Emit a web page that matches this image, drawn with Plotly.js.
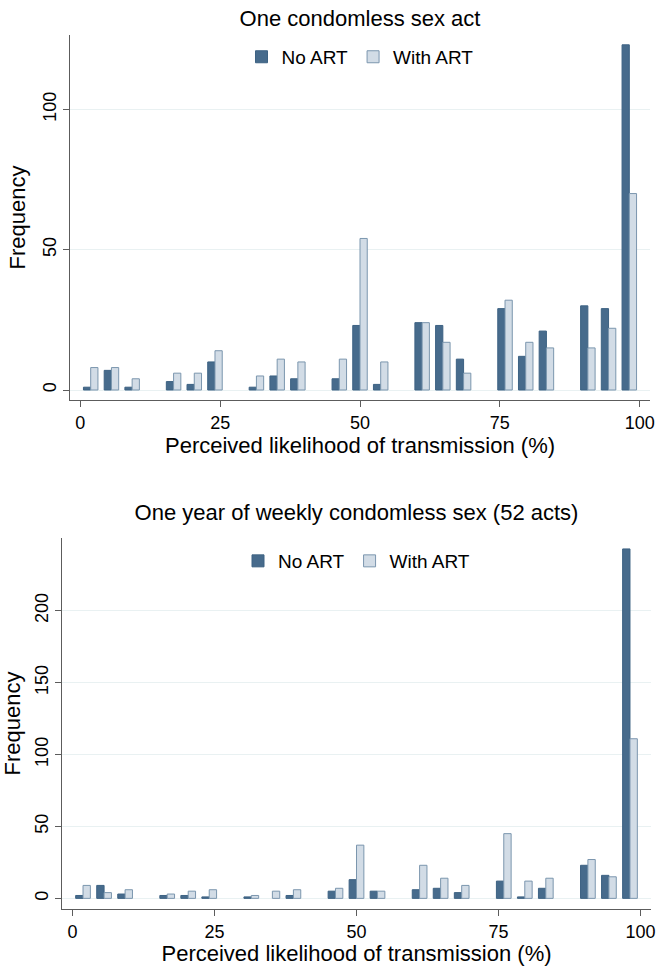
<!DOCTYPE html>
<html>
<head>
<meta charset="utf-8">
<script src="https://cdn.plot.ly/plotly-3.0.1.min.js"></script>
<style>
  html, body { margin: 0; padding: 0; background: #ffffff; }
  #top, #bottom { width: 667px; height: 483px; }
</style>
</head>
<body>
<div id="top"></div>
<div id="bottom"></div>
<script>
// Bin midpoints of the 27 histogram bins on 0–100 (%)
const binMid = [1.85, 5.56, 9.26, 12.96, 16.67, 20.37, 24.07, 27.78, 31.48, 35.19,
                38.89, 42.59, 46.30, 50.00, 53.70, 57.41, 61.11, 64.81, 68.52, 72.22,
                75.93, 79.63, 83.33, 87.04, 90.74, 94.44, 98.15];

// One condomless sex act
const oneActNoART   = [1, 7, 1, 0, 3, 2, 10, 0, 1, 5, 4, 0, 4, 23, 2, 0, 24, 23, 11, 0, 29, 12, 21, 0, 30, 29, 123];
const oneActWithART = [8, 8, 4, 0, 6, 6, 14, 0, 5, 11, 10, 0, 11, 54, 10, 0, 24, 17, 6, 0, 32, 17, 15, 0, 15, 22, 70];

// One year of weekly condomless sex (52 acts)
const yearNoART   = [2, 9, 3, 0, 2, 2, 1, 0, 1, 0, 2, 0, 5, 13, 5, 0, 6, 7, 4, 0, 12, 1, 7, 0, 23, 16, 243];
const yearWithART = [9, 4, 6, 0, 3, 5, 6, 0, 2, 5, 6, 0, 7, 37, 5, 0, 23, 14, 9, 0, 45, 12, 14, 0, 27, 15, 111];

const xTickVals = [0, 25, 50, 75, 100];
const topYTicks = [0, 50, 100];
const bottomYTicks = [0, 50, 100, 150, 200];

const titles = ["One condomless sex act", "One year of weekly condomless sex (52 acts)"];
const seriesNames = ["No ART", "With ART"];
const xTitle = "Perceived likelihood of transmission (%)";
const yTitle = "Frequency";

const FONT = "Liberation Sans, Arial, Helvetica, sans-serif";
const AXIS = "#5c5c5c";
const GRID = "#e9f1f2";

function nz(arr) { return arr.map(v => (v === 0 ? null : v)); }

function makeTraces(noArt, withArt) {
  return [
    { type: "bar", name: seriesNames[0], x: binMid, y: nz(noArt),
      marker: { color: "#476b8c", line: { color: "#3d6283", width: 1 } } },
    { type: "bar", name: seriesNames[1], x: binMid, y: nz(withArt),
      marker: { color: "#d2dce6", line: { color: "#7b96ae", width: 1 } } }
  ];
}

function makeLayout(opts) {
  return {
    width: 667, height: 483,
    margin: opts.margin,
    paper_bgcolor: "#ffffff", plot_bgcolor: "#ffffff",
    font: { family: FONT, color: "#000000" },
    barmode: "group", bargap: 0.3, bargroupgap: 0,
    title: { text: opts.title, font: { family: FONT, size: 22, color: "#000" },
             x: opts.titleX, xanchor: "center", xref: "paper",
             y: opts.titleY, yref: "container", yanchor: "middle" },
    showlegend: true,
    legend: { orientation: "h", x: 0.5, xanchor: "center", y: opts.legendY, yanchor: "middle",
              font: { family: FONT, size: 19, color: "#000" }, bgcolor: "rgba(0,0,0,0)",
              itemwidth: 30, traceorder: "normal" },
    xaxis: {
      range: [-1.85, 101.85], tickvals: xTickVals, ticktext: xTickVals.map(String),
      showline: true, linecolor: AXIS, linewidth: 1, mirror: false,
      ticks: "outside", ticklen: 6, tickcolor: AXIS, tickwidth: 1,
      showgrid: false, zeroline: false,
      tickfont: { family: FONT, size: 18, color: "#000" },
      title: { text: xTitle, font: { family: FONT, size: 22, color: "#000" }, standoff: 4 },
      fixedrange: true
    },
    yaxis: {
      range: opts.yRange, tickvals: opts.yTicks, ticktext: opts.yTicks.map(String),
      tickangle: -90,
      showline: true, linecolor: AXIS, linewidth: 1,
      ticks: "outside", ticklen: 6, tickcolor: AXIS, tickwidth: 1,
      showgrid: true, gridcolor: GRID, gridwidth: 1,
      zeroline: true, zerolinecolor: GRID, zerolinewidth: 1,
      tickfont: { family: FONT, size: 18, color: "#000" },
      title: { text: yTitle, font: { family: FONT, size: 22, color: "#000" }, standoff: 8 },
      fixedrange: true
    }
  };
}

Plotly.newPlot("top", makeTraces(oneActNoART, oneActWithART), makeLayout({
  title: titles[0], titleX: 0.5, titleY: 1 - 18 / 483, legendY: 0.94,
  margin: { l: 70, r: 17, t: 35, b: 83 },
  yRange: [-3.56, 126.5], yTicks: topYTicks
}), { displayModeBar: false, staticPlot: true });

Plotly.newPlot("bottom", makeTraces(yearNoART, yearWithART), makeLayout({
  title: titles[1], titleX: 0.5, titleY: 1 - 29 / 483, legendY: 0.938,
  margin: { l: 62, r: 16, t: 55, b: 57 },
  yRange: [-7.4, 250.6], yTicks: bottomYTicks
}), { displayModeBar: false, staticPlot: true });
</script>
</body>
</html>
